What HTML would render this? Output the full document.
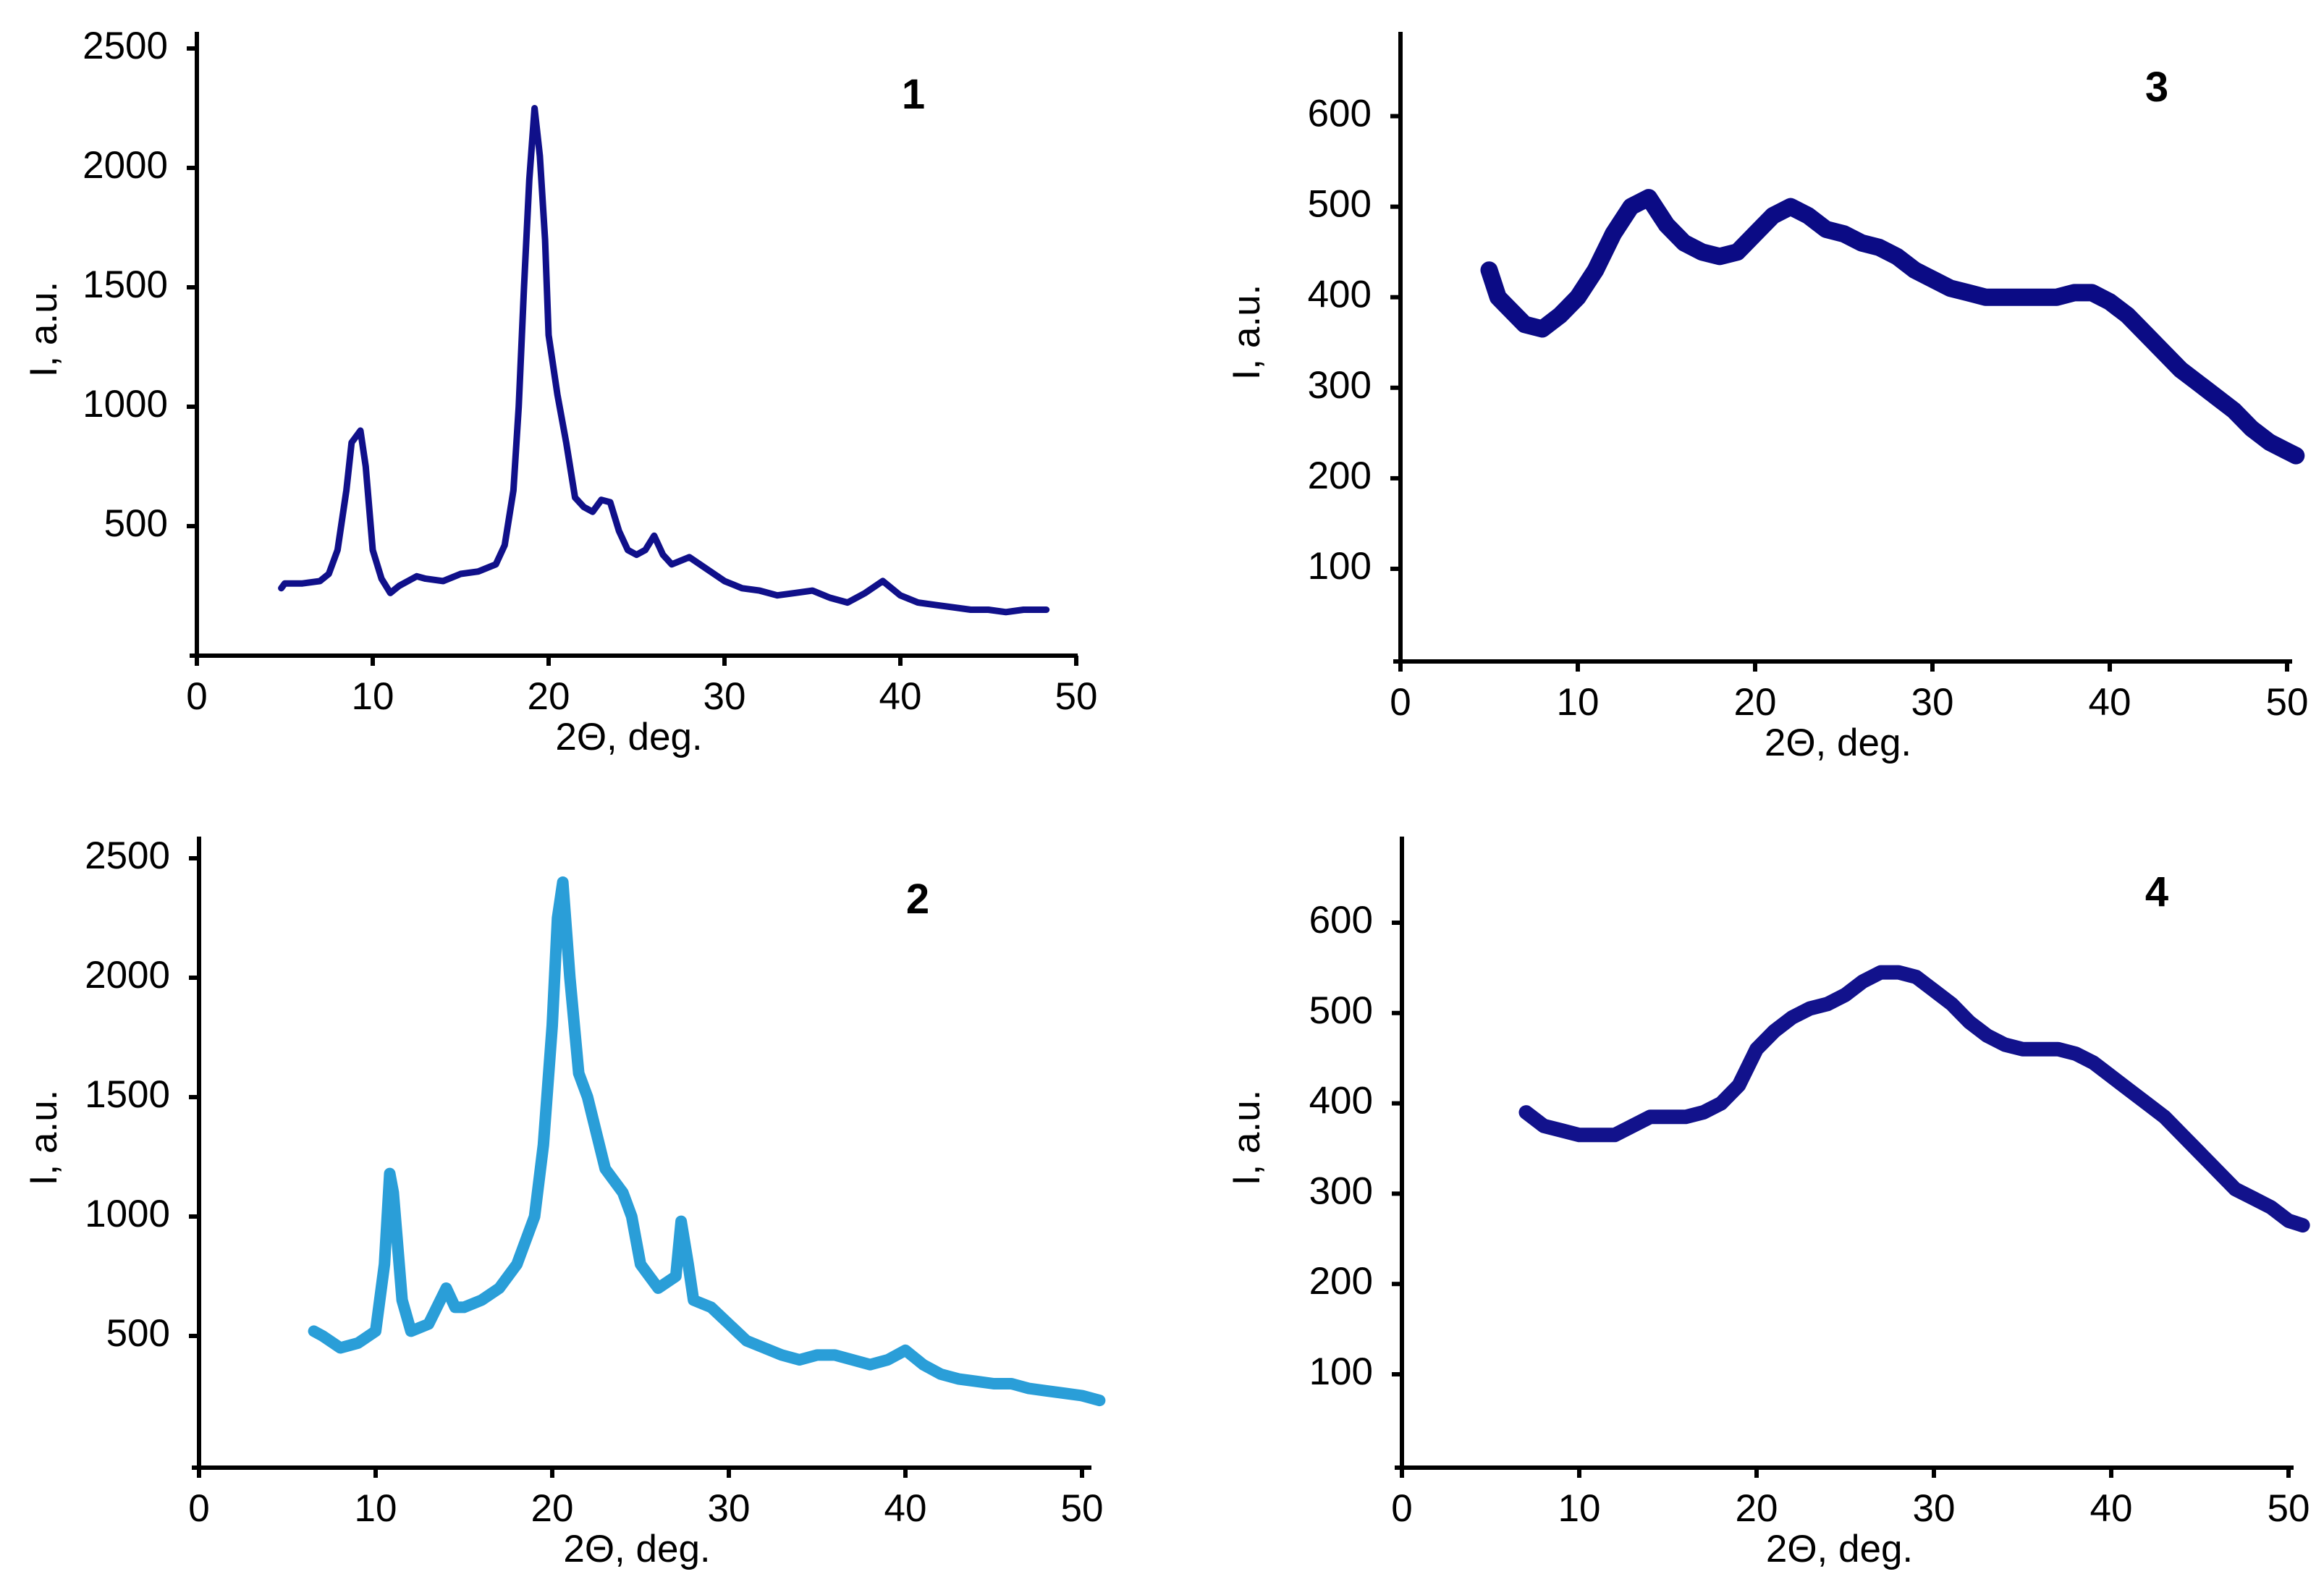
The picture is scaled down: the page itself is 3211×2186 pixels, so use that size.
<!DOCTYPE html>
<html><head><meta charset="utf-8"><style>
html,body{margin:0;padding:0;background:#fff}
svg{display:block}
text{font-family:"Liberation Sans",sans-serif;fill:#000}
</style></head><body>
<svg id="fig" width="3211" height="2186" viewBox="0 0 3211 2186" xmlns="http://www.w3.org/2000/svg"></svg>
<script>
// Panel 1 data
const x1 = [4.8,5,6,7,7.5,8,8.5,8.8,9,9.3,9.6,10,10.5,11,11.5,12,12.5,13,14,15,16,17,17.5,18,18.3,18.6,18.9,19.2,19.5,19.8,20,20.5,21,21.5,22,22.5,23,23.5,24,24.5,25,25.5,26,26.5,27,28,29,30,31,32,33,34,35,36,37,38,39,40,41,42,43,44,45,46,47,48.3];
const y1 = [240,260,260,270,300,400,650,850,870,900,750,400,280,220,250,270,290,280,270,300,310,340,420,650,1000,1500,1950,2250,2050,1700,1300,1050,850,620,580,560,610,600,480,400,380,400,460,380,340,370,320,270,240,230,210,220,230,200,180,220,270,210,180,170,160,150,150,140,150,150];
// Panel 2 data
const x2 = [6.5,7,8,9,10,10.5,10.8,11,11.5,12,13,14,14.5,15,16,17,18,19,19.5,20,20.3,20.6,21,21.5,22,23,24,24.5,25,26,27,27.3,27.7,28,29,30,31,32,33,34,35,36,37,38,39,40,41,42,43,44,45,46,47,48,49,50,51];
const y2 = [520,500,450,470,520,800,1180,1100,650,520,550,700,620,620,650,700,800,1000,1300,1800,2250,2400,2000,1600,1500,1200,1100,1000,800,700,750,980,800,650,620,550,480,450,420,400,420,420,400,380,400,440,380,340,320,310,300,300,280,270,260,250,230];
// Panel 3 data
const x3 = [5,5.5,6,7,8,9,10,11,12,13,14,15,16,17,18,19,20,21,22,23,24,25,26,27,28,29,30,31,32,33,34,35,36,37,38,39,40,41,42,43,44,45,46,47,48,49,50,50.5];
const y3 = [430,400,390,370,365,380,400,430,470,500,510,480,460,450,445,450,470,490,500,490,475,470,460,455,445,430,420,410,405,400,400,400,400,400,405,405,395,380,360,340,320,305,290,275,255,240,230,225];
// Panel 4 data
const x4 = [7,8,9,10,11,12,13,14,15,16,17,18,19,20,21,22,23,24,25,26,27,28,29,30,31,32,33,34,35,36,37,38,39,40,41,42,43,44,45,46,47,48,49,50,50.8];
const y4 = [390,375,370,365,365,365,375,385,385,385,390,400,420,460,480,495,505,510,520,535,545,545,540,525,510,490,475,465,460,460,460,455,445,430,415,400,385,365,345,325,305,295,285,270,265];
const xTicks = [0,10,20,30,40,50];
const yTicksA = [500,1000,1500,2000,2500];
const yTicksB = [100,200,300,400,500,600];

const NS='http://www.w3.org/2000/svg';
const svg=document.getElementById('fig');
function mk(tag,attrs,parent){const e=document.createElementNS(NS,tag);for(const k in attrs)e.setAttribute(k,attrs[k]);(parent||svg).appendChild(e);return e;}

const panels=[
 {id:'1',xs:x1,ys:y1,ticks:yTicksA,x0:272,xu:24.3,xEnd:1486,yRef:500,yRefPx:727,yu:0.33,axisY:906,axisTop:44,color:'#10108a',sw:9,label:[1262,150]},
 {id:'2',xs:x2,ys:y2,ticks:yTicksA,x0:275,xu:24.4,xEnd:1505,yRef:500,yRefPx:1846,yu:0.33,axisY:2028,axisTop:1156,color:'#2a9ed8',sw:16,label:[1268,1262]},
 {id:'3',xs:x3,ys:y3,ticks:yTicksB,x0:1935,xu:24.5,xEnd:3164,yRef:100,yRefPx:786,yu:1.251,axisY:914,axisTop:44,color:'#0b0b85',sw:24,label:[2980,140]},
 {id:'4',xs:x4,ys:y4,ticks:yTicksB,x0:1937,xu:24.5,xEnd:3166,yRef:100,yRefPx:1899,yu:1.248,axisY:2028,axisTop:1156,color:'#12128c',sw:20,label:[2980,1252]}
];

panels.forEach(p=>{
  const g=mk('g',{});
  
  
  const sx=v=>p.x0+v*p.xu;
  const sy=v=>p.yRefPx-(v-p.yRef)*p.yu;
  const ya=mk('line',{x1:p.x0,y1:p.axisTop,x2:p.x0,y2:p.axisY+10,stroke:'#000','stroke-width':6},g);
  
  
  const xa=mk('line',{x1:p.x0-10,y1:p.axisY,x2:p.xEnd+3,y2:p.axisY,stroke:'#000','stroke-width':6},g);
  
  
  xTicks.forEach(t=>{
    mk('line',{x1:sx(t),y1:p.axisY,x2:sx(t),y2:p.axisY+14,stroke:'#000','stroke-width':6},g);
    const tx=mk('text',{x:sx(t),y:p.axisY+74,'font-size':53,'text-anchor':'middle'},g);
    tx.textContent=t;
    
    
  });
  p.ticks.forEach(t=>{
    mk('line',{x1:p.x0-14,y1:sy(t),x2:p.x0,y2:sy(t),stroke:'#000','stroke-width':6},g);
    const tx=mk('text',{x:p.x0-40,y:sy(t)+14,'font-size':53,'text-anchor':'end'},g);
    tx.textContent=t;
    
    
  });
  const cx=(p.x0+p.xEnd)/2-10;
  const xt=mk('text',{x:cx,y:p.axisY+130,'font-size':53,'text-anchor':'middle'},g);
  xt.textContent='2Θ, deg.';
  
  
  const midY=(p.axisTop+p.axisY)/2;
  const tx0=p.x0<1000?78:1740;
  const yt=mk('text',{x:tx0,y:midY-20,'font-size':53,'text-anchor':'middle',transform:'rotate(-90 '+tx0+' '+(midY-20)+')'},g);
  yt.textContent='I, a.u.';
  
  
  const pl=mk('text',{x:p.label[0],y:p.label[1],'font-size':58,'font-weight':'bold','text-anchor':'middle'},g);
  pl.textContent=p.id;
  
  
  let d='';
  p.xs.forEach((x,i)=>{d+=(i?'L':'M')+sx(x).toFixed(1)+' '+sy(p.ys[i]).toFixed(1);});
  const path=mk('path',{d:d,fill:'none',stroke:p.color,'stroke-width':p.sw,'stroke-linejoin':'round','stroke-linecap':'round'},g);
  
  
});
</script>
</body></html>
